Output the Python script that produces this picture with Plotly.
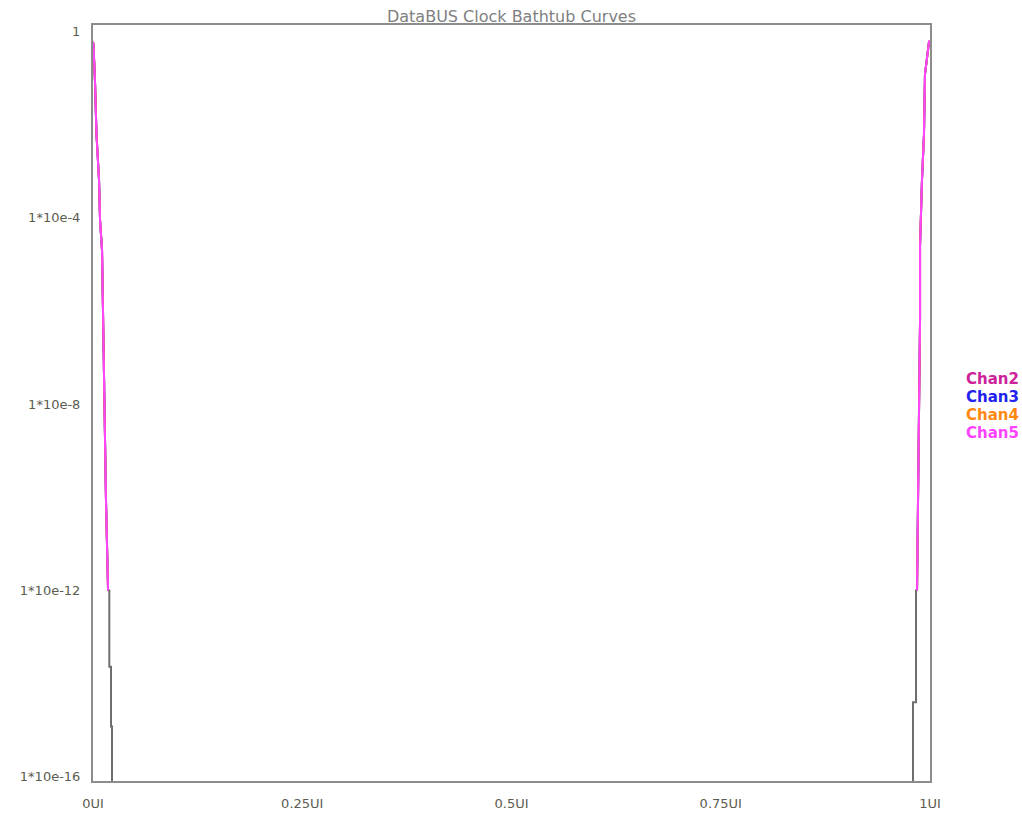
import plotly.graph_objects as go

# ---- data ----
channels = ["Chan2", "Chan3", "Chan4", "Chan5"]
channel_colors = ["#cc2299", "#2222ee", "#ff8811", "#ff44ff"]

left_ui = [0.0, 0.0006, 0.0024, 0.0042, 0.0072, 0.0084, 0.0108, 0.0120, 0.0137, 0.0155, 0.0180]
left_ber = [0.6, 5.1e-1, 8.3e-2, 6.0e-3, 6.5e-4, 9.0e-5, 2.0e-5, 6.5e-7, 1.1e-8, 9.0e-11, 1.0e-12]

right_ui = [1.0, 0.9988, 0.9940, 0.9928, 0.9904, 0.9881, 0.9881, 0.9869, 0.9845]
right_ber = [0.6, 6.0e-1, 1.2e-1, 6.0e-3, 6.3e-4, 2.5e-5, 6.5e-7, 1.1e-8, 1.0e-12]

left_ext_ui = [0.0180, 0.0195, 0.0195, 0.0215, 0.0215, 0.0227, 0.0227]
left_ext_ber = [1.0e-12, 1.0e-12, 2.3e-14, 2.3e-14, 1.2e-15, 1.2e-15, 1e-17]

right_ext_ui = [0.9845, 0.9833, 0.9833, 0.9797, 0.9797]
right_ext_ber = [1.0e-12, 1.0e-12, 4.0e-15, 4.0e-15, 1e-17]

x_tickvals = [0, 0.25, 0.5, 0.75, 1.0]
x_ticktext = ["0UI", "0.25UI", "0.5UI", "0.75UI", "1UI"]
y_tickvals = [1, 1e-4, 1e-8, 1e-12, 1e-16]
y_ticktext = ["1", "1*10e-4", "1*10e-8", "1*10e-12", "1*10e-16"]

title_text = "DataBUS Clock Bathtub Curves"

# ---- figure ----
fig = go.Figure()

# extrapolated tails (dark)
for ux, by in [(left_ext_ui, left_ext_ber), (right_ext_ui, right_ext_ber)]:
    fig.add_trace(go.Scatter(x=ux, y=by, mode="lines",
                             line=dict(color="#6e6e70", width=2),
                             showlegend=False, hoverinfo="skip"))

for name, col in zip(channels, channel_colors):
    for ux, by in [(left_ui, left_ber), (right_ui, right_ber)]:
        fig.add_trace(go.Scatter(x=ux, y=by, mode="lines", name=name,
                                 legendgroup=name, showlegend=False,
                                 line=dict(color=col, width=2)))

W, H = 1022, 814
L, T = 93, 25
R = W - 930
B = H - 781
pw, ph = W - L - R, H - T - B

legend_y_px = [379, 397, 415, 433]
for name, col, ypx in zip(channels, channel_colors, legend_y_px):
    fig.add_annotation(x=(964 - L) / pw, y=(H - B - ypx) / ph,
                       xref="paper", yref="paper",
                       text="<b>" + name + "</b>", showarrow=False,
                       xanchor="left", yanchor="middle",
                       font=dict(family="DejaVu Sans", size=15, color=col))

fig.update_layout(
    width=W, height=H, autosize=False,
    margin=dict(l=L, r=R, t=T, b=B, autoexpand=False),
    paper_bgcolor="white", plot_bgcolor="white",
    title=dict(text=title_text, x=(L + pw / 2) / W, xanchor="center",
               y=1 - 16 / H, yanchor="middle", yref="container",
               font=dict(family="DejaVu Sans", size=16, color="#808080")),
    showlegend=False,
    font=dict(family="DejaVu Sans", size=13, color="#5c5c50"),
)
fig.update_xaxes(range=[0, 1], tickvals=x_tickvals, ticktext=x_ticktext,
                 showgrid=False, zeroline=False, showline=True, mirror=True,
                 linecolor="#8c8c8c", linewidth=2, automargin=False,
                 ticks="outside", ticklen=9, tickcolor="rgba(0,0,0,0)")
fig.update_yaxes(type="log", range=[-16.09, 0.14], tickvals=y_tickvals, ticktext=y_ticktext,
                 showgrid=False, zeroline=False, showline=True, mirror=True,
                 linecolor="#8c8c8c", linewidth=2, automargin=False,
                 ticks="outside", ticklen=8, tickcolor="rgba(0,0,0,0)")

fig.write_html("out.html", config={"displayModeBar": False},
               post_script="document.body.style.margin='0';document.body.style.overflow='hidden';")
